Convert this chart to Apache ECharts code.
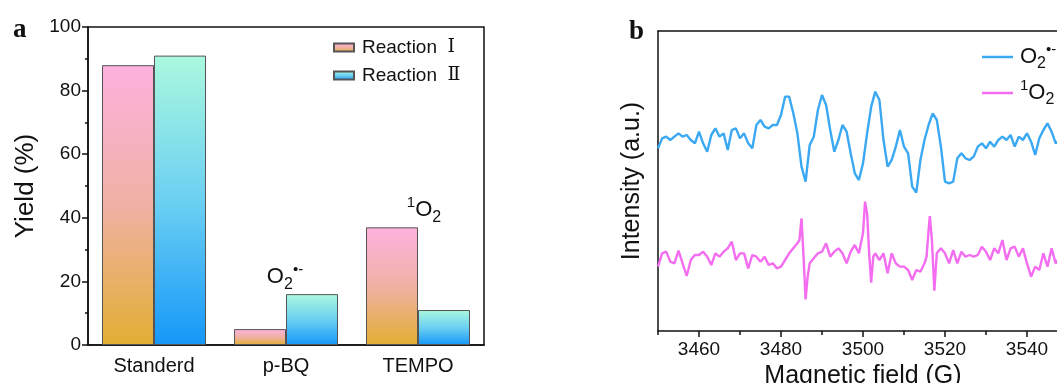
<!DOCTYPE html>
<html>
<head>
<meta charset="utf-8">
<script src="https://cdn.jsdelivr.net/npm/echarts@6/dist/echarts.min.js"></script>
<style>
  html, body { margin: 0; background: #fff; }
  #chart { width: 1057px; height: 383px; }
</style>
</head>
<body>
<div id="chart"></div>
<script>
// panel a: yields
const categories = ['Standerd', 'p-BQ', 'TEMPO']
const reactionI = [88, 5, 37]
const reactionII = [91, 16, 11]
const notesI = ['', '', '{p|1}{o|O}{s|2}']
const notesII = ['', '{o|O}{s|2}{p|•-}', '']

// panel b: EPR spectra (field in G, intensity in a.u.)
const fieldTicks = [3460, 3480, 3500, 3520, 3540]
const fieldMinorTicks = [3450, 3470, 3490, 3510, 3530, 3550]

const fieldSuperoxide = [
  3450, 3451, 3452, 3453, 3454, 3455, 3456, 3457, 3458, 3459,
  3460, 3461, 3462, 3463, 3464, 3465, 3466, 3467, 3468, 3469,
  3470, 3471, 3472, 3473, 3474, 3475, 3476, 3477, 3478, 3479,
  3480, 3481, 3482, 3483, 3484, 3485, 3486, 3487, 3488, 3489,
  3490, 3491, 3492, 3493, 3494, 3495, 3496, 3497, 3498, 3499,
  3500, 3501, 3502, 3503, 3504, 3505, 3506, 3507, 3508, 3509,
  3510, 3511, 3512, 3513, 3514, 3515, 3516, 3517, 3518, 3519,
  3520, 3521, 3522, 3523, 3524, 3525, 3526, 3527, 3528, 3529,
  3530, 3531, 3532, 3533, 3534, 3535, 3536, 3537, 3538, 3539,
  3540, 3541, 3542, 3543, 3544, 3545, 3546, 3547, 3548
]
const signalSuperoxide = [
  54.8, 57.8, 58.3, 57.3, 58.3, 59.3, 58.3, 58.8, 57.3, 56.3,
  59.8, 56.3, 53.8, 58.8, 60.8, 58.3, 59.3, 54.3, 60.3, 60.8,
  57.8, 59.3, 56.3, 54.8, 61.8, 63.3, 61.3, 60.8, 61.8, 61.8,
  64.8, 70.3, 70.3, 65.3, 59.3, 49.3, 44.8, 55.8, 58.3, 66.3,
  70.8, 67.8, 60.3, 53.8, 57.3, 61.8, 59.8, 53.3, 47.3, 45.3,
  50.3, 59.3, 67.3, 71.8, 69.3, 57.3, 49.3, 51.3, 55.3, 60.3,
  55.3, 53.3, 43.3, 41.5, 51.3, 57.3, 61.8, 65.3, 63.3, 55.3,
  44.8, 44.3, 44.8, 51.8, 53.3, 51.8, 51.3, 52.3, 55.3, 56.3,
  54.8, 56.8, 55.3, 57.3, 58.3, 57.3, 58.8, 55.3, 58.3, 57.3,
  59.3, 56.8, 52.8, 57.8, 60.3, 62.3, 59.8, 56.3, 57.3
]

const fieldSinglet = [
  3450, 3451, 3452, 3453, 3454, 3455, 3456, 3457, 3458, 3459,
  3460, 3461, 3462, 3463, 3464, 3465, 3466, 3467, 3468, 3469,
  3470, 3471, 3472, 3473, 3474, 3475, 3476, 3477, 3478, 3479,
  3480, 3481, 3482, 3483, 3484, 3484.5, 3485, 3485.5, 3486, 3486.5,
  3487, 3488, 3489, 3490, 3491, 3492, 3493, 3494, 3495, 3496,
  3497, 3498, 3499, 3500, 3500.5, 3501, 3501.5, 3502, 3502.5, 3503,
  3504, 3505, 3506, 3507, 3508, 3509, 3510, 3511, 3512, 3513,
  3514, 3515, 3515.5, 3516, 3516.3, 3516.8, 3517.4, 3518, 3519, 3520,
  3521, 3522, 3523, 3524, 3525, 3526, 3527, 3528, 3529, 3530,
  3531, 3532, 3533, 3534, 3535, 3536, 3537, 3538, 3539, 3540,
  3541, 3542, 3543, 3544, 3545, 3546, 3547, 3548
]
const signalSinglet = [
  19.3, 23.3, 23.8, 20.8, 20.3, 24.1, 20.3, 16.5, 21.3, 22.8,
  22.8, 23.8, 22.3, 19.8, 23.3, 22.3, 23.8, 24.8, 26.8, 21.3,
  23.3, 23.3, 18.8, 22.8, 22.3, 20.8, 22.3, 19.8, 20.3, 18.8,
  19.3, 21.3, 23.3, 24.8, 26.3, 27.3, 33.8, 22.3, 9.5, 16.3,
  20.3, 21.8, 23.3, 23.8, 26.3, 22.3, 23.8, 24.8, 23.3, 20.3,
  23.8, 25.8, 23.3, 29.3, 38.8, 35.3, 23.3, 14.5, 22.3, 23.3,
  21.3, 23.3, 17.3, 23.3, 20.3, 19.3, 19.3, 18.3, 15.3, 18.3,
  17.8, 20.3, 22.3, 30.3, 34.5, 27.3, 12.1, 23.3, 24.8, 23.3,
  20.3, 24.3, 20.3, 23.8, 22.3, 22.8, 22.3, 22.8, 25.3, 23.8,
  21.3, 24.8, 23.3, 27.3, 21.3, 24.8, 25.3, 22.3, 24.8, 20.3,
  16.3, 19.3, 18.3, 23.3, 19.3, 24.8, 20.3, 22.3
]

const SANS = "'Liberation Sans', Arial, sans-serif"
const SERIF = "'Liberation Serif', 'DejaVu Serif', serif"
const INK = '#111'

const chemRich = {
  o: {fontSize: 22, fontFamily: SANS, color: INK, lineHeight: 30},
  s: {fontSize: 16, fontFamily: SANS, color: INK, verticalAlign: 'bottom', lineHeight: 16},
  p: {fontSize: 15, fontFamily: SANS, color: INK, verticalAlign: 'top', lineHeight: 15},
}

const pinkGold = new echarts.graphic.LinearGradient(0, 0, 0, 1, [
  {offset: 0, color: '#fdb1de'},
  {offset: 0.5, color: '#f0b1a4'},
  {offset: 1, color: '#e2ae33'},
])
const mintBlue = new echarts.graphic.LinearGradient(0, 0, 0, 1, [
  {offset: 0, color: '#aaf8de'},
  {offset: 0.5, color: '#6cd0f2'},
  {offset: 1, color: '#1597f8'},
])

const barData = (values, notes, offset) =>
  values.map((v, i) => notes[i]
    ? {value: v, label: {show: true, position: 'top', distance: 2, offset: offset, formatter: notes[i], rich: chemRich}}
    : v)

const zip = (xs, ys) => xs.map((x, i) => [x, ys[i]])

const axisLine = {show: true, lineStyle: {color: INK, width: 1.5}}
const tickStyle = {color: INK, width: 1.5}
const plainNumber = (v) => String(v)

const chart = echarts.init(document.getElementById('chart'))
chart.setOption({
  animation: false,
  backgroundColor: '#fff',
  textStyle: {fontFamily: SANS},
  grid: [
    {left: 88, top: 27, width: 396, height: 318, outerBoundsMode: 'none', show: true, borderColor: INK, borderWidth: 1.5},
    {left: 658, top: 31, width: 410, height: 300, outerBoundsMode: 'none'},
  ],
  xAxis: [
    {
      gridIndex: 0, type: 'category', data: categories,
      axisLine: axisLine,
      axisTick: {alignWithLabel: true, length: 5, lineStyle: tickStyle},
      axisLabel: {color: INK, fontSize: 20, fontFamily: SANS, margin: 11},
    },
    {
      gridIndex: 1, type: 'value', min: 3450, max: 3550, position: 'bottom',
      axisLine: axisLine,
      axisTick: {customValues: fieldTicks, length: 6, lineStyle: tickStyle},
      axisLabel: {customValues: fieldTicks, formatter: plainNumber, color: INK, fontSize: 19, fontFamily: SANS, margin: 9},
      splitLine: {show: false},
      name: 'Magnetic field (G)', nameLocation: 'middle', nameGap: 28,
      nameTextStyle: {color: INK, fontSize: 25, fontFamily: SANS},
    },
    {
      gridIndex: 1, type: 'value', min: 3450, max: 3550, position: 'bottom',
      axisLine: {show: false},
      axisTick: {customValues: fieldMinorTicks, length: 4, lineStyle: tickStyle},
      axisLabel: {show: false},
      splitLine: {show: false},
    },
    {
      gridIndex: 1, type: 'value', min: 3450, max: 3550, position: 'top',
      axisLine: axisLine,
      axisTick: {show: false},
      axisLabel: {show: false},
      splitLine: {show: false},
    },
  ],
  yAxis: [
    {
      gridIndex: 0, type: 'value', min: 0, max: 100, interval: 20,
      axisLine: axisLine,
      axisTick: {show: true, length: 6, lineStyle: tickStyle},
      minorTick: {show: true, splitNumber: 2, length: 3, lineStyle: tickStyle},
      axisLabel: {color: INK, fontSize: 19, fontFamily: SANS, margin: 7},
      splitLine: {show: false},
      name: 'Yield (%)', nameLocation: 'middle', nameGap: 49,
      nameTextStyle: {color: INK, fontSize: 26, fontFamily: SANS},
    },
    {
      gridIndex: 1, type: 'value', min: 0, max: 90,
      axisLine: axisLine,
      axisTick: {show: false},
      axisLabel: {show: false},
      splitLine: {show: false},
      name: 'Intensity (a.u.)', nameLocation: 'middle', nameGap: 13,
      nameTextStyle: {color: INK, fontSize: 25, fontFamily: SANS},
    },
  ],
  legend: [
    {
      data: ['Reaction Ⅰ', 'Reaction Ⅱ'],
      left: 328, top: 33, orient: 'vertical',
      icon: 'rect', itemWidth: 20, itemHeight: 8, itemGap: 9,
      formatter: (n) => n.replace(' ', '  {r|') + '}',
      textStyle: {
        color: INK, fontSize: 19, fontFamily: SANS, padding: [0, 0, 0, 3],
        rich: {r: {fontSize: 19, fontFamily: SERIF, color: INK}},
      },
    },
    {
      data: ['O2•-', '1O2'],
      left: 977, top: 37, orient: 'vertical',
      icon: 'rect', itemWidth: 31, itemHeight: 2.5, itemGap: 6,
      formatter: (n) => (n === 'O2•-' ? '{o|O}{s|2}{p|•-}' : '{p|1}{o|O}{s|2}'),
      textStyle: {color: INK, fontSize: 19, padding: [0, 0, 0, 2], rich: chemRich},
    },
  ],
  graphic: [
    {type: 'text', style: {x: 13, y: 17, text: 'a', font: "bold 27px 'Liberation Serif'", fill: INK}},
    {type: 'text', style: {x: 629, y: 19, text: 'b', font: "bold 27px 'Liberation Serif'", fill: INK}},
  ],
  series: [
    {
      name: 'Reaction Ⅰ', type: 'bar', xAxisIndex: 0, yAxisIndex: 0,
      barWidth: 52, barGap: '0%',
      itemStyle: {color: pinkGold, borderColor: '#555', borderWidth: 1},
      data: barData(reactionI, notesI, [32, 0]),
    },
    {
      name: 'Reaction Ⅱ', type: 'bar', xAxisIndex: 0, yAxisIndex: 0,
      barWidth: 52, barGap: '0%',
      itemStyle: {color: mintBlue, borderColor: '#555', borderWidth: 1},
      data: barData(reactionII, notesII, [-27, 0]),
    },
    {
      name: 'O2•-', type: 'line', xAxisIndex: 1, yAxisIndex: 1,
      symbol: 'none', lineStyle: {color: '#3aa8f2', width: 2.4}, itemStyle: {color: '#3aa8f2'},
      data: zip(fieldSuperoxide, signalSuperoxide),
    },
    {
      name: '1O2', type: 'line', xAxisIndex: 1, yAxisIndex: 1,
      symbol: 'none', lineStyle: {color: '#f46cf0', width: 2.4}, itemStyle: {color: '#f46cf0'},
      data: zip(fieldSinglet, signalSinglet),
    },
  ],
})
</script>
</body>
</html>
